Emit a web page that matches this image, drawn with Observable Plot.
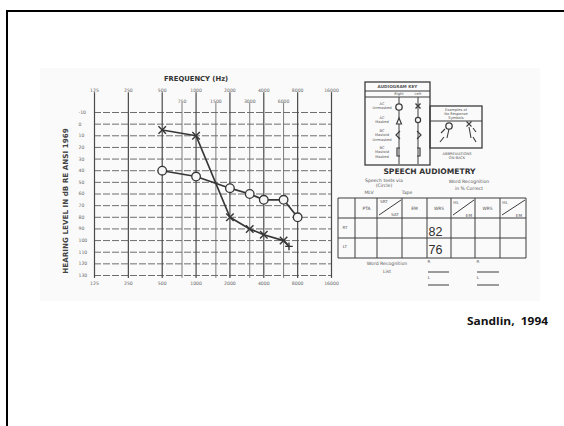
<!DOCTYPE html>
<html><head><meta charset="utf-8">
<script src="https://cdn.jsdelivr.net/npm/d3@7"></script>
<script src="https://cdn.jsdelivr.net/npm/@observablehq/plot@0.6"></script>
<style>
body{margin:0;background:#fff;}
#slide{position:relative;width:564px;height:426px;overflow:hidden;background:#fff;}
#frame{position:absolute;left:6px;top:10px;width:700px;height:600px;border-top:2.5px solid #000;border-left:2.5px solid #000;}
#slide svg{position:absolute;left:0;top:0;}
</style></head><body>
<div id="slide"><div id="frame"></div></div>
<script>
// ---- data ----
const octaveFreqs = [125, 250, 500, 1000, 2000, 4000, 8000, 16000];
const octaveLabels = ["125", "250", "500", "1000", "2000", "4000", "8000", "16000"];
const midFreqs = [750, 1500, 3000, 6000];
const midLabels = ["750", "1500", "3000", "6000"];
const dbTicks = [-10, 0, 10, 20, 30, 40, 50, 60, 70, 80, 90, 100, 110, 120, 130];
const rightFreq = [500, 1000, 2000, 3000, 4000, 6000, 8000];
const rightDb = [40, 45, 55, 60, 65, 65, 80];
const leftFreq = [500, 1000, 2000, 3000, 4000, 6000];
const leftDb = [5, 10, 80, 90, 95, 100];
const noRespFreq = [6700];
const noRespDb = [105];
const wrsRight = 82;
const wrsLeft = 76;
const titleText = "FREQUENCY (Hz)";
const yLabelText = "HEARING LEVEL IN dB RE ANSI 1969";
const captionText = "Sandlin,  1994";

const right = rightFreq.map((f, i) => ({f, db: rightDb[i]}));
const left = leftFreq.map((f, i) => ({f, db: leftDb[i]}));
const nr = noRespFreq.map((f, i) => ({f, db: noRespDb[i]}));
const octRows = octaveFreqs.map((f, i) => ({f, label: octaveLabels[i]}));
const midRows = midFreqs.map((f, i) => ({f, label: midLabels[i]}));

const ink = "#363636", grid = "#6e6e6e", lab = "#666";
const slide = document.getElementById("slide");

// scanned-image backdrop
const bg = document.createElement("div");
bg.style.cssText = "position:absolute;left:40px;top:68px;width:500px;height:233px;background:#fafafa;";
slide.appendChild(bg);

const chart = Plot.plot({
  width: 564, height: 426,
  marginLeft: 94, marginRight: 233, marginTop: 112, marginBottom: 151,
  x: {type: "log", domain: [125, 16000], axis: null},
  y: {domain: [-10, 130], reverse: true, axis: null},
  style: {background: "transparent", fontFamily: "DejaVu Sans, sans-serif", color: lab},
  marks: [
    Plot.ruleY(dbTicks, {x1: 125, x2: 16000, stroke: grid, strokeWidth: 1, strokeDasharray: "7,2"}),
    Plot.ruleX(octaveFreqs, {y1: -27, y2: 132.5, stroke: "#4a4a4a", strokeWidth: 1.2}),
    Plot.ruleX(midFreqs, {y1: -18, y2: 132.5, stroke: grid, strokeWidth: 0.9}),
    Plot.text(octRows, {x: "f", text: "label", frameAnchor: "top", dy: -24, fontSize: 4.6, fill: lab}),
    Plot.text(midRows, {x: "f", text: "label", frameAnchor: "top", dy: -13, fontSize: 4.6, fill: lab}),
    Plot.text(octRows, {x: "f", text: "label", frameAnchor: "bottom", dy: 9, fontSize: 4.6, fill: lab}),
    Plot.text(dbTicks, {y: d => d, text: d => String(d), frameAnchor: "left", dx: -16, fontSize: 4.6, fill: lab}),
    Plot.text([titleText], {x: 1000, frameAnchor: "top", dy: -36, fontSize: 6.8, fontWeight: "bold", fill: "#333"}),
    Plot.text([yLabelText], {frameAnchor: "left", textAnchor: "middle", dx: -29, dy: 7, rotate: -90, fontSize: 7.2, fontWeight: "bold", fill: "#444"}),
    Plot.line(right, {x: "f", y: "db", stroke: ink, strokeWidth: 1.7}),
    Plot.line(left.concat(nr), {x: "f", y: "db", stroke: ink, strokeWidth: 1.7}),
    Plot.dot(right, {x: "f", y: "db", r: 4.3, fill: "#f6f6f6", stroke: ink, strokeWidth: 1.3}),
    Plot.dot(left, {x: "f", y: "db", symbol: "times", r: 3.5, stroke: ink, strokeWidth: 1.4}),
    Plot.dot(nr, {x: "f", y: "db", symbol: "plus", r: 2.6, stroke: ink, strokeWidth: 1.4})
  ]
});
slide.appendChild(chart);

// ---- audiogram key, speech audiometry table, caption (decorative scan content) ----
const t = (x, y, s, size = 4.2, anchor = "middle", extra = "") =>
  `<text x="${x}" y="${y}" font-size="${size}" text-anchor="${anchor}" dominant-baseline="middle" ${extra}>${s}</text>`;
const cols = [338, 355, 377, 402, 427, 451, 475, 500, 526];
const rows = [198, 218, 238, 258];
let tbl = "";
cols.forEach(x => tbl += `<line x1="${x}" y1="${rows[0]}" x2="${x}" y2="${rows[3]}"/>`);
rows.forEach(y => tbl += `<line x1="${cols[0]}" y1="${y}" x2="${cols[8]}" y2="${y}"/>`);
const diag = (c) => `<line x1="${cols[c] + 2}" y1="${rows[1] - 3}" x2="${cols[c + 1] - 1}" y2="${rows[0] + 2}"/>`;
tbl += diag(2) + diag(5) + diag(7);

const overlay = `
<svg width="564" height="426" viewBox="0 0 564 426" xmlns="http://www.w3.org/2000/svg" font-family="DejaVu Sans, sans-serif">
 <g fill="none" stroke="#3c3c3c" stroke-width="1">
  <rect x="365" y="82" width="65" height="83" stroke-width="1.3"/>
  <line x1="365" y1="91" x2="430" y2="91"/>
  <line x1="365" y1="97" x2="430" y2="97"/>
  <line x1="399" y1="97" x2="399" y2="164"/>
  <line x1="418" y1="97" x2="418" y2="164"/>
  <rect x="430" y="106" width="52" height="42" stroke-width="1.3"/>
  <line x1="430" y1="121" x2="482" y2="121"/>
  <circle cx="399" cy="107" r="3.2" fill="#fafafa" stroke-width="1.3"/>
  <path d="M396.5,124 L399,118 L401.5,124 Z" fill="#fafafa" stroke-width="1.2"/>
  <path d="M400,131 L396,135 L400,139" stroke-width="1.2"/>
  <path d="M400,148 L397,148 L397,156 L400,156" stroke-width="1.2"/>
  <path d="M415.5,103.5 L420.5,108.5 M420.5,103.5 L415.5,108.5" stroke-width="1.4"/>
  <circle cx="418" cy="120" r="2.6" fill="#fafafa" stroke-width="1.2"/>
  <path d="M417,131 L421,135 L417,139" stroke-width="1.2"/>
  <path d="M417,148 L420,148 L420,156 L417,156" stroke-width="1.2"/>
  <circle cx="449" cy="126" r="3.2" fill="#fafafa" stroke-width="1.3"/>
  <path d="M449,129 L447,138 M445,129 L441,133 M444,137 L440,142" stroke-width="1.1"/>
  <path d="M466.5,121.5 L471.5,126.5 M471.5,121.5 L466.5,126.5 M469,127 L471,138 M473,128 L476,132 M473,137 L476,142" stroke-width="1.1"/>
  ${tbl}
  <line x1="428" y1="272" x2="449" y2="272"/>
  <line x1="428" y1="285" x2="449" y2="285"/>
  <line x1="477" y1="272" x2="499" y2="272"/>
  <line x1="477" y1="285" x2="499" y2="285"/>
 </g>
 <g fill="#555">
  ${t(397.5, 86.8, "AUDIOGRAM KEY", 4.2, "middle", 'font-weight="bold"')}
  ${t(399, 94, "Right", 3.6)}${t(418, 94, "Left", 3.6)}
  ${t(382, 104, "AC", 3.6)}${t(382, 108.5, "Unmasked", 3.6)}
  ${t(382, 118, "AC", 3.6)}${t(382, 122.5, "Masked", 3.6)}
  ${t(382, 131, "BC", 3.6)}${t(382, 135.5, "Mastoid", 3.6)}${t(382, 140, "Unmasked", 3.6)}
  ${t(382, 148, "BC", 3.6)}${t(382, 152.5, "Mastoid", 3.6)}${t(382, 157, "Masked", 3.6)}
  ${t(456, 110, "Examples of", 3.6)}${t(456, 114, "No Response", 3.6)}${t(456, 118, "Symbols", 3.6)}
  ${t(457, 154, "ABBREVIATIONS", 3.6)}${t(457, 158.5, "ON BACK", 3.6)}
  ${t(429.5, 171.5, "SPEECH AUDIOMETRY", 7.6, "middle", 'font-weight="bold" fill="#333"')}
  ${t(384, 180.5, "Speech tests via", 4.6)}${t(384, 186, "(Circle)", 4.6)}
  ${t(369, 193, "MLV", 4.6)}${t(407, 193, "Tape", 4.6)}
  ${t(469, 182, "Word Recognition", 4.6)}${t(469, 188.5, "in % Correct", 4.6)}
  ${t(366.5, 209, "PTA", 4.4)}${t(384, 201.5, "SRT", 4.2)}${t(395, 215, "SAT", 4.2)}
  ${t(414.5, 209, "EM", 4.4)}${t(439, 209, "WRS", 4.4)}
  ${t(456, 202.5, "HL", 4.2)}${t(469, 215.5, "EM", 4.2)}
  ${t(487.5, 209, "WRS", 4.4)}
  ${t(505, 202.5, "HL", 4.2)}${t(519, 215.5, "EM", 4.2)}
  ${t(345, 228, "RT", 4.2)}${t(345, 247, "LT", 4.2)}
  ${t(387, 264, "Word Recognition", 4.6)}${t(387, 272, "List", 4.6)}
  ${t(429, 262, "R", 4.2)}${t(429, 277.5, "L", 4.2)}
  ${t(478, 262, "R", 4.2)}${t(478, 277.5, "L", 4.2)}
 </g>
 <g fill="#2e2e2e" font-family="Liberation Sans, sans-serif">
  ${t(428.5, 232.5, String(wrsRight), 12.5, "start")}
  ${t(428.5, 251, String(wrsLeft), 12.5, "start")}
 </g>
 <text x="548" y="322" font-family="Open Sans, sans-serif" font-weight="bold" font-size="10" text-anchor="end" dominant-baseline="middle" fill="#111" textLength="81" lengthAdjust="spacingAndGlyphs" xml:space="preserve">${captionText}</text>
</svg>`;
slide.insertAdjacentHTML("beforeend", overlay);
</script>
</body></html>
